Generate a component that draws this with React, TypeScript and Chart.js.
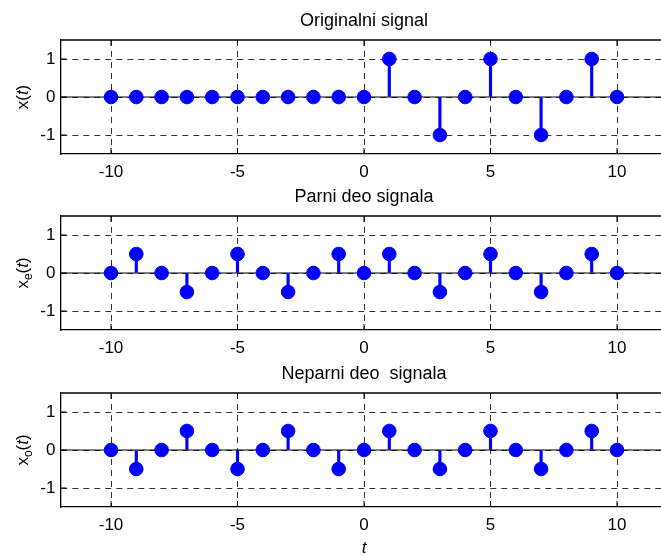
import React, { useEffect, useRef } from "react";
import { Chart, registerables } from "chart.js";

Chart.register(...registerables);

// ---------- data ----------
const tValues = [-10, -9, -8, -7, -6, -5, -4, -3, -2, -1, 0, 1, 2, 3, 4, 5, 6, 7, 8, 9, 10];
const xOriginal = [0, 0, 0, 0, 0, 0, 0, 0, 0, 0, 0, 1, 0, -1, 0, 1, 0, -1, 0, 1, 0];
const xEven = [0, 0.5, 0, -0.5, 0, 0.5, 0, -0.5, 0, 0.5, 0, 0.5, 0, -0.5, 0, 0.5, 0, -0.5, 0, 0.5, 0];
const xOdd = [0, -0.5, 0, 0.5, 0, -0.5, 0, 0.5, 0, -0.5, 0, 0.5, 0, -0.5, 0, 0.5, 0, -0.5, 0, 0.5, 0];
const xTicks = [-10, -5, 0, 5, 10];
const yTicks = [-1, 0, 1];
const xRange = [-12, 12];
const yRange = [-1.5, 1.5];
const titles = ["Originalni signal", "Parni deo signala", "Neparni deo  signala"];
const subscripts = ["", "e", "o"];
const xAxisLabel = "t";

// ---------- layout ----------
const FONT = "'Liberation Sans', Arial, Helvetica, sans-serif";
const CANVAS_W = 700;
const CANVAS_H = 210;
const PLOT_TOP = 40;
const PLOT_H = 114;
const PLOT_LEFT = 60.4;
const PLOT_RIGHT = 667.6;
const BLUE = "#0000ff";

type PlotProps = {
  values: number[];
  title: string;
  sub: string;
  showXLabel: boolean;
  top: number;
};

function StemPlot({ values, title, sub, showXLabel, top }: PlotProps) {
  const ref = useRef<HTMLCanvasElement | null>(null);

  useEffect(() => {
    if (!ref.current) return;
    const pts = tValues.map((t, i) => ({ x: t, y: values[i] }));

    const decor = {
      id: "decor",
      afterDraw(chart: any) {
        const { ctx, chartArea: ca, scales } = chart;
        const xs = scales.x;
        const ys = scales.y;
        ctx.save();
        // top box border
        ctx.strokeStyle = "#000";
        ctx.lineWidth = 1.3;
        ctx.beginPath();
        ctx.moveTo(ca.left, ca.top);
        ctx.lineTo(ca.right, ca.top);
        ctx.stroke();
        // inward tick marks
        const tl = 6;
        ctx.lineWidth = 1;
        ctx.beginPath();
        xTicks.forEach((v) => {
          const px = xs.getPixelForValue(v);
          ctx.moveTo(px, ca.bottom);
          ctx.lineTo(px, ca.bottom - tl);
          ctx.moveTo(px, ca.top);
          ctx.lineTo(px, ca.top + tl);
        });
        yTicks.forEach((v) => {
          const py = ys.getPixelForValue(v);
          ctx.moveTo(ca.left, py);
          ctx.lineTo(ca.left + tl, py);
        });
        ctx.stroke();

        // title
        ctx.fillStyle = "#000";
        ctx.font = `18px ${FONT}`;
        ctx.textAlign = "center";
        ctx.textBaseline = "alphabetic";
        ctx.fillText(title, (ca.left + ca.right) / 2, 26);

        // y label, rotated
        const parts: { text: string; font: string; dy: number }[] = [
          { text: "x", font: `17px ${FONT}`, dy: 0 },
        ];
        if (sub) parts.push({ text: sub, font: `12px ${FONT}`, dy: 4 });
        parts.push({ text: "(", font: `17px ${FONT}`, dy: 0 });
        parts.push({ text: "t", font: `italic 17px ${FONT}`, dy: 0 });
        parts.push({ text: ")", font: `17px ${FONT}`, dy: 0 });
        let total = 0;
        const widths = parts.map((p) => {
          ctx.font = p.font;
          const w = ctx.measureText(p.text).width;
          total += w;
          return w;
        });
        ctx.save();
        ctx.translate(28, (ca.top + ca.bottom) / 2);
        ctx.rotate(-Math.PI / 2);
        ctx.textAlign = "left";
        ctx.textBaseline = "alphabetic";
        let cx = -total / 2;
        parts.forEach((p, i) => {
          ctx.font = p.font;
          ctx.fillText(p.text, cx, p.dy);
          cx += widths[i];
        });
        ctx.restore();

        // x label
        if (showXLabel) {
          ctx.font = `italic 17px ${FONT}`;
          ctx.textAlign = "center";
          ctx.textBaseline = "alphabetic";
          ctx.fillText(xAxisLabel, (ca.left + ca.right) / 2, 200);
        }
        ctx.restore();
      },
    };

    const chart = new Chart(ref.current, {
      type: "bar",
      data: {
        datasets: [
          {
            type: "line",
            data: pts,
            showLine: false,
            pointRadius: 6.8,
            pointBackgroundColor: BLUE,
            pointBorderColor: BLUE,
            pointBorderWidth: 1,
            order: 0,
          } as any,
          {
            type: "bar",
            data: pts,
            backgroundColor: BLUE,
            borderWidth: 0,
            barThickness: 2.5,
            order: 1,
          } as any,
          {
            type: "line",
            data: [
              { x: xRange[0], y: 0 },
              { x: xRange[1], y: 0 },
            ],
            borderColor: "#000",
            borderWidth: 1.2,
            pointRadius: 0,
            order: 2,
          } as any,
        ],
      },
      options: {
        animation: false,
        responsive: false,
        maintainAspectRatio: false,
        devicePixelRatio: 1,
        layout: {
          padding: { top: PLOT_TOP, left: 0, right: CANVAS_W - PLOT_RIGHT, bottom: 0 },
        },
        plugins: {
          legend: { display: false },
          tooltip: { enabled: false },
          title: { display: false },
        },
        scales: {
          x: {
            type: "linear",
            min: xRange[0],
            max: xRange[1],
            offset: false,
            afterBuildTicks: (axis: any) => {
              axis.ticks = xTicks.map((v) => ({ value: v }));
            },
            afterFit: (scale: any) => {
              scale.height = CANVAS_H - PLOT_TOP - PLOT_H;
            },
            ticks: {
              color: "#000",
              font: { family: FONT, size: 17 },
              padding: 8,
              maxRotation: 0,
              autoSkip: false,
            },
            grid: {
              offset: false,
              color: "#333",
              lineWidth: 1,
              drawTicks: false,
            },
            border: { display: true, color: "#000", width: 1.3, dash: [6, 5] },
          },
          y: {
            type: "linear",
            min: yRange[0],
            max: yRange[1],
            afterBuildTicks: (axis: any) => {
              axis.ticks = yTicks.map((v) => ({ value: v }));
            },
            afterFit: (scale: any) => {
              scale.width = PLOT_LEFT;
            },
            ticks: {
              color: "#000",
              font: { family: FONT, size: 17 },
              padding: 5,
              autoSkip: false,
            },
            grid: {
              color: "#333",
              lineWidth: 1,
              drawTicks: false,
            },
            border: { display: true, color: "#000", width: 1.3, dash: [6, 5] },
          },
        },
      } as any,
      plugins: [decor],
    });
    return () => chart.destroy();
  }, [values, title, sub, showXLabel]);

  return (
    <canvas
      ref={ref}
      width={CANVAS_W}
      height={CANVAS_H}
      style={{ position: "absolute", left: 0, top, width: CANVAS_W, height: CANVAS_H }}
    />
  );
}

export default function App() {
  return (
    <div
      style={{
        position: "fixed",
        left: 0,
        top: 0,
        width: 661,
        height: 557,
        overflow: "hidden",
        background: "#fff",
      }}
    >
      <StemPlot values={xOriginal} title={titles[0]} sub={subscripts[0]} showXLabel={false} top={0} />
      <StemPlot values={xEven} title={titles[1]} sub={subscripts[1]} showXLabel={false} top={176} />
      <StemPlot values={xOdd} title={titles[2]} sub={subscripts[2]} showXLabel={true} top={353} />
    </div>
  );
}
